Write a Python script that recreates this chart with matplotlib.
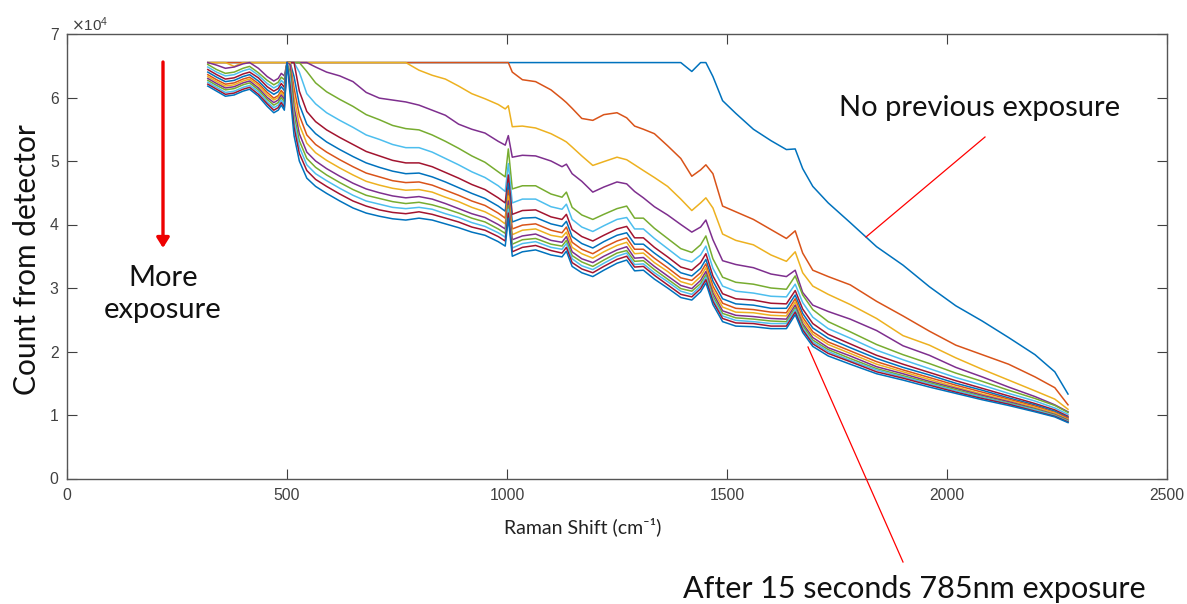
import numpy as np
import matplotlib
matplotlib.use("Agg")
import matplotlib.pyplot as plt

# Raman shift axis (cm^-1) shared by every spectrum
raman_shift = [320, 340, 360, 380, 400, 415, 435, 455, 470, 480,
               487, 494, 500, 507, 516, 528, 545, 565, 590, 620,
               650, 680, 710, 740, 770, 800, 830, 860, 890, 920,
               950, 980, 996, 1003, 1012, 1035, 1065, 1100, 1125, 1135,
               1148, 1170, 1195, 1220, 1250, 1272, 1290, 1310, 1335, 1365,
               1395, 1420, 1440, 1452, 1468, 1490, 1520, 1560, 1600, 1635,
               1655, 1672, 1695, 1730, 1780, 1840, 1900, 1960, 2020, 2080,
               2140, 2200, 2245, 2275]

# Detector counts in thousands; 65.5 is the detector clipping level
SAT = 65.5

scan_00 = [SAT] * 51 + [64.1, 65.5, 65.5, 63.3, 59.5, 57.5, 55.0, 53.2, 51.8,
                        51.9, 48.8, 46.0, 43.4, 40.3, 36.5, 33.6, 30.2, 27.2, 24.8,
                        22.2, 19.5, 16.8, 13.3]

scan_01 = [SAT] * 34 + [64.0, 62.8, 62.5, 61.2, 59.8, 59.2, 58.3, 56.7, 56.4, 57.3,
                        57.6, 56.8, 55.5, 55.0, 54.3, 52.4, 50.4, 47.6, 48.6, 49.4,
                        48.0, 42.9, 42.0, 40.8, 39.2, 37.8, 39.0, 35.5, 32.8, 31.8,
                        30.5, 27.9, 25.6, 23.2, 21.0, 19.5, 18.0, 16.0, 14.3, 11.6]

scan_02 = [SAT, SAT, SAT, 64.9] + [SAT] * 21 + [
    64.3, 63.5, 62.9, 61.8, 60.6, 59.8, 58.9, 58.2, 58.7, 55.4,
    55.5, 55.2, 54.3, 53.4, 53.0, 52.2, 50.8, 49.3, 49.9, 50.6,
    50.2, 49.4, 48.5, 47.4, 46.0, 44.0, 42.2, 43.4, 44.2, 42.6,
    38.5, 37.5, 36.8, 35.2, 34.2, 35.7, 32.4, 30.3, 29.0, 27.4,
    25.2, 22.5, 21.0, 19.0, 17.2, 15.5, 13.8, 12.5, 10.9]

scan_03 = [65.5, 65.1, 64.6, 64.8, 65.3, 65.5, 64.6, 63.3, 62.6, 63.0,
           63.8, 63.4, 65.5, 65.5, 65.5, 65.5, 65.5, 64.8, 64.0, 63.4,
           62.5, 60.8, 59.9, 59.6, 59.3, 58.8, 58.0, 57.2, 55.8, 55.0,
           54.4, 53.1, 52.5, 54.0, 50.6, 50.9, 50.8, 50.0, 49.1, 49.5,
           48.0, 46.8, 45.1, 45.9, 46.7, 46.4, 45.2, 44.2, 42.8, 41.5,
           40.0, 38.8, 39.6, 40.7, 37.6, 34.3, 33.7, 33.2, 32.2, 31.8,
           32.8, 29.3, 27.3, 26.3, 25.1, 23.3, 20.9, 19.4, 17.5, 16.0,
           14.4, 12.9, 11.6, 10.5]

scan_04 = [65.2, 64.4, 63.8, 64.0, 64.6, 64.9, 63.9, 62.7, 62.0, 62.4,
           63.2, 62.8, 65.5, 65.5, 65.5, 65.5, 64.1, 62.3, 60.9, 59.7,
           58.6, 57.3, 56.5, 55.6, 55.1, 54.9, 54.1, 53.1, 52.0, 50.8,
           49.8, 48.3, 47.5, 51.9, 45.6, 46.1, 46.1, 44.8, 44.3, 45.1,
           42.7, 41.5, 40.8, 41.6, 42.5, 42.9, 41.0, 41.0, 39.4, 37.8,
           36.2, 35.6, 36.8, 38.2, 34.6, 31.7, 30.9, 30.6, 30.0, 29.8,
           31.9, 28.9, 26.6, 24.7, 23.1, 21.1, 19.5, 18.1, 16.6, 15.3,
           13.9, 12.6, 11.5, 10.4]

scan_05 = [64.8, 64.0, 63.4, 63.6, 64.2, 64.5, 63.5, 62.2, 61.5, 61.9,
           62.7, 62.2, 65.5, 65.5, 65.5, 64.0, 60.6, 59.0, 57.6, 56.4,
           55.3, 54.1, 53.4, 52.6, 52.1, 52.1, 51.4, 50.4, 49.4, 48.3,
           47.4, 46.1, 45.2, 49.6, 43.4, 44.0, 44.0, 42.8, 42.4, 43.2,
           40.8, 39.6, 38.9, 39.8, 40.8, 41.1, 39.3, 39.3, 37.8, 36.2,
           34.6, 34.1, 35.2, 36.6, 33.1, 30.3, 29.5, 29.2, 28.7, 28.6,
           30.6, 27.7, 25.4, 23.6, 22.1, 20.2, 18.7, 17.3, 15.9, 14.7,
           13.4, 12.2, 11.1, 10.1]

scan_06 = [64.4, 63.6, 62.9, 63.1, 63.7, 64.0, 63.1, 61.7, 61.0, 61.4,
           62.2, 61.6, 65.5, 65.5, 65.5, 61.0, 57.8, 56.2, 54.9, 53.7,
           52.6, 51.5, 50.8, 50.1, 49.7, 49.7, 49.1, 48.2, 47.3, 46.3,
           45.5, 44.2, 43.4, 47.8, 41.6, 42.2, 42.3, 41.2, 40.8, 41.6,
           39.2, 38.1, 37.4, 38.3, 39.3, 39.7, 37.9, 37.9, 36.4, 34.9,
           33.3, 32.8, 34.0, 35.4, 31.9, 29.1, 28.3, 28.1, 27.6, 27.5,
           29.6, 26.7, 24.4, 22.7, 21.2, 19.4, 18.0, 16.7, 15.4, 14.2,
           13.0, 11.8, 10.8, 9.8]

scan_07 = [64.0, 63.2, 62.5, 62.7, 63.3, 63.6, 62.6, 61.2, 60.5, 60.9,
           61.7, 61.1, 65.5, 65.5, 63.3, 58.9, 55.8, 54.3, 53.0, 51.8,
           50.7, 49.7, 49.0, 48.4, 48.0, 48.1, 47.5, 46.7, 45.8, 44.9,
           44.1, 42.9, 42.1, 46.5, 40.4, 41.0, 41.1, 40.1, 39.7, 40.5,
           38.1, 37.0, 36.3, 37.3, 38.3, 38.7, 36.9, 36.9, 35.5, 34.0,
           32.4, 31.9, 33.1, 34.5, 31.1, 28.3, 27.5, 27.3, 26.8, 26.8,
           28.9, 26.0, 23.7, 22.1, 20.6, 18.9, 17.5, 16.3, 15.0, 13.9,
           12.7, 11.6, 10.6, 9.6]

scan_08 = [63.6, 62.8, 62.1, 62.3, 62.9, 63.2, 62.2, 60.8, 59.9, 60.3,
           61.1, 60.5, 65.5, 65.5, 61.5, 57.2, 54.1, 52.6, 51.4, 50.2,
           49.1, 48.1, 47.5, 46.9, 46.6, 46.7, 46.2, 45.4, 44.6, 43.7,
           43.0, 41.8, 41.0, 45.4, 39.3, 39.9, 40.1, 39.1, 38.7, 39.6,
           37.2, 36.1, 35.4, 36.4, 37.4, 37.9, 36.1, 36.1, 34.7, 33.2,
           31.6, 31.2, 32.4, 33.8, 30.3, 27.6, 26.8, 26.6, 26.2, 26.1,
           28.3, 25.4, 23.1, 21.5, 20.1, 18.4, 17.1, 15.9, 14.7, 13.6,
           12.5, 11.4, 10.4, 9.5]

scan_09 = [63.3, 62.5, 61.8, 62.0, 62.6, 62.9, 61.9, 60.4, 59.6, 60.0,
           60.8, 60.1, 65.5, 65.5, 60.0, 55.7, 52.8, 51.3, 50.1, 48.9,
           47.8, 46.8, 46.2, 45.7, 45.4, 45.5, 45.1, 44.3, 43.6, 42.7,
           42.0, 40.9, 40.1, 44.5, 38.4, 39.1, 39.3, 38.3, 38.0, 38.8,
           36.4, 35.4, 34.7, 35.7, 36.7, 37.2, 35.4, 35.5, 34.0, 32.6,
           31.0, 30.5, 31.8, 33.2, 29.7, 27.0, 26.2, 26.1, 25.7, 25.6,
           27.8, 24.9, 22.7, 21.1, 19.7, 18.0, 16.8, 15.6, 14.4, 13.3,
           12.3, 11.2, 10.3, 9.3]

scan_10 = [63.0, 62.2, 61.5, 61.7, 62.3, 62.6, 61.5, 60.0, 59.2, 59.6,
           60.4, 59.7, 65.5, 65.2, 58.5, 54.3, 51.4, 50.0, 48.8, 47.6,
           46.5, 45.6, 45.0, 44.5, 44.2, 44.4, 44.0, 43.3, 42.5, 41.7,
           41.1, 40.0, 39.3, 43.7, 37.6, 38.2, 38.5, 37.5, 37.2, 38.1,
           35.7, 34.6, 34.0, 35.0, 36.0, 36.5, 34.7, 34.8, 33.4, 31.9,
           30.4, 29.9, 31.2, 32.6, 29.2, 26.4, 25.7, 25.5, 25.2, 25.1,
           27.3, 24.4, 22.2, 20.6, 19.3, 17.6, 16.5, 15.3, 14.2, 13.1,
           12.1, 11.0, 10.1, 9.2]

scan_11 = [62.7, 61.9, 61.2, 61.4, 62.0, 62.3, 61.2, 59.7, 58.8, 59.2,
           60.0, 59.3, 65.5, 64.0, 57.3, 53.2, 50.4, 49.0, 47.8, 46.6,
           45.5, 44.6, 44.1, 43.6, 43.3, 43.5, 43.1, 42.5, 41.8, 41.0,
           40.4, 39.3, 38.6, 43.0, 36.9, 37.6, 37.8, 36.9, 36.6, 37.5,
           35.1, 34.1, 33.4, 34.4, 35.5, 35.9, 34.2, 34.3, 32.9, 31.4,
           29.9, 29.5, 30.7, 32.1, 28.7, 26.0, 25.3, 25.1, 24.8, 24.7,
           26.9, 24.1, 21.8, 20.3, 18.9, 17.3, 16.2, 15.1, 14.0, 12.9,
           11.9, 10.9, 10.0, 9.1]

scan_12 = [62.4, 61.6, 60.8, 61.0, 61.6, 61.9, 60.9, 59.3, 58.4, 58.8,
           59.6, 58.8, 65.5, 62.9, 56.3, 52.2, 49.4, 48.0, 46.9, 45.7,
           44.6, 43.7, 43.2, 42.7, 42.5, 42.7, 42.4, 41.7, 41.1, 40.3,
           39.7, 38.7, 38.0, 42.4, 36.3, 37.0, 37.3, 36.4, 36.1, 37.0,
           34.6, 33.5, 32.9, 33.9, 35.0, 35.5, 33.7, 33.8, 32.4, 31.0,
           29.5, 29.0, 30.3, 31.7, 28.3, 25.6, 24.9, 24.7, 24.4, 24.4,
           26.6, 23.7, 21.5, 20.0, 18.6, 17.1, 16.0, 14.9, 13.8, 12.8,
           11.8, 10.8, 9.9, 9.0]

scan_13 = [62.1, 61.3, 60.5, 60.7, 61.3, 61.6, 60.5, 59.0, 58.0, 58.4,
           59.2, 58.4, 65.5, 61.8, 55.3, 51.2, 48.5, 47.1, 46.0, 44.8,
           43.7, 42.9, 42.3, 41.9, 41.7, 42.0, 41.6, 41.0, 40.4, 39.6,
           39.1, 38.1, 37.4, 41.8, 35.7, 36.4, 36.7, 35.9, 35.5, 36.4,
           34.0, 33.0, 32.4, 33.4, 34.5, 35.0, 33.3, 33.4, 32.0, 30.5,
           29.0, 28.6, 29.9, 31.3, 27.9, 25.2, 24.5, 24.4, 24.0, 24.0,
           26.2, 23.4, 21.2, 19.7, 18.4, 16.8, 15.8, 14.7, 13.6, 12.6,
           11.7, 10.6, 9.8, 8.9]

scan_14 = [61.8, 61.0, 60.2, 60.4, 61.0, 61.3, 60.2, 58.6, 57.6, 58.0,
           58.8, 58.0, 65.5, 60.5, 54.0, 50.0, 47.3, 46.0, 44.9, 43.7,
           42.6, 41.8, 41.3, 40.9, 40.7, 41.0, 40.7, 40.1, 39.5, 38.8,
           38.3, 37.3, 36.6, 41.0, 35.0, 35.7, 36.0, 35.2, 34.9, 35.8,
           33.4, 32.4, 31.8, 32.8, 33.9, 34.4, 32.7, 32.8, 31.4, 30.0,
           28.5, 28.1, 29.4, 30.8, 27.4, 24.7, 24.0, 23.9, 23.6, 23.6,
           25.8, 23.0, 20.8, 19.3, 18.0, 16.5, 15.5, 14.4, 13.4, 12.4,
           11.5, 10.5, 9.7, 8.8]

scans = [scan_00, scan_01, scan_02, scan_03, scan_04, scan_05, scan_06,
         scan_07, scan_08, scan_09, scan_10, scan_11, scan_12, scan_13, scan_14]

# MATLAB default colour order
line_colors = ['#0072BD', '#D95319', '#EDB120', '#7E2F8E',
               '#77AC30', '#4DBEEE', '#A2142F']

x_ticks = [0, 500, 1000, 1500, 2000, 2500]
y_ticks = [0, 1, 2, 3, 4, 5, 6, 7]          # in units of 10^4 counts

W, H = 1187, 604
fig = plt.figure(figsize=(W / 100, H / 100), dpi=100)
ax = fig.add_axes([67 / W, 1 - 478.5 / H, 1100 / W, (478.5 - 34) / H])

shift = np.asarray(raman_shift)
for i, counts_k in enumerate(scans):
    ax.plot(shift, np.asarray(counts_k) * 1000.0,
            color=line_colors[i % len(line_colors)], lw=1.1)

ax.set_xlim(0, 2500)
ax.set_ylim(0, 70000)
ax.set_xticks(x_ticks)
ax.set_yticks([t * 1e4 for t in y_ticks])
ax.set_yticklabels([str(t) for t in y_ticks])

for lab in ax.get_xticklabels() + ax.get_yticklabels():
    lab.set_fontfamily('Liberation Sans')
    lab.set_fontsize(11.3)
ax.tick_params(direction='in', length=7, width=0.8, top=True, right=True,
               colors='#404040', pad=7)
ax.tick_params(axis='y', pad=6)
for sp in ax.spines.values():
    sp.set_color('#555555')
    sp.set_linewidth(1.0)

# exponent label above the y axis
fig.text(71 / W, 1 - 31 / H, r'$\times\mathregular{10^{4}}$', ha='left',
         va='baseline', fontsize=11, color='#404040', family='Liberation Sans')

label_font = ['Lato', 'DejaVu Sans']
fig.text(583 / W, 1 - 527 / H, 'Raman Shift (cm\u207b\u00b9)', ha='center',
         va='center', fontsize=14, family=label_font, color='#222222')
fig.text(27 / W, 1 - 260 / H, 'Count from detector', rotation=90,
         ha='center', va='center', fontsize=21.5, family=label_font,
         color='#111111')

# annotations
red = '#FF0000'
ax.annotate('', xy=(163 / W, 1 - 248 / H), xycoords='figure fraction',
            xytext=(163 / W, 1 - 62 / H), textcoords='figure fraction',
            arrowprops=dict(arrowstyle='-|>,head_length=0.4,head_width=0.25',
                            color='#EE0000', lw=2.4, mutation_scale=15,
                            shrinkA=0, shrinkB=0))
fig.text(163 / W, 1 - 294 / H, 'More\nexposure', ha='center', va='center',
         fontsize=21, family=label_font, linespacing=1.25, color='#111111')

fig.text(980 / W, 1 - 108 / H, 'No previous exposure', ha='center',
         va='center', fontsize=21, family=label_font, color='#111111')
fig.add_artist(plt.Line2D([985 / W, 866 / W], [1 - 137 / H, 1 - 237 / H],
                          transform=fig.transFigure, color=red, lw=0.9))

fig.text(914 / W, 1 - 589 / H, 'After 15 seconds 785nm exposure',
         ha='center', va='center', fontsize=22, family=label_font,
         color='#111111')
fig.add_artist(plt.Line2D([808 / W, 903 / W], [1 - 347 / H, 1 - 562 / H],
                          transform=fig.transFigure, color=red, lw=0.9))

fig.savefig('out.png', dpi=100, facecolor='white')
